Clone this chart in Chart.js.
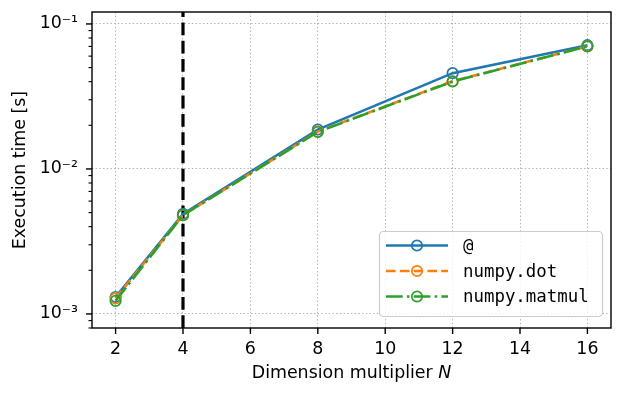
<!DOCTYPE html>
<html><head><meta charset="utf-8">
<script src="https://cdn.jsdelivr.net/npm/chart.js@4/dist/chart.umd.min.js"></script>
<style>html,body{margin:0;padding:0;background:#fff}canvas{display:block}</style>
</head><body>
<canvas id="c" width="624" height="397"></canvas>
<script>
const dimensionMultipliers = [2, 4, 8, 12, 16];
const atOperatorTimes = [0.00131, 0.0049, 0.0187, 0.0458, 0.0714];
const numpyDotTimes = [0.00128, 0.0048, 0.0181, 0.0403, 0.0702];
const numpyMatmulTimes = [0.00123, 0.0048, 0.0180, 0.0401, 0.0700];
const xTickValues = [2, 4, 6, 8, 10, 12, 14, 16];
const seriesLabels = ['@', 'numpy.dot', 'numpy.matmul'];
const markerLine = 4;

const supers = {'-':'\u207B','0':'\u2070','1':'\u00B9','2':'\u00B2','3':'\u00B3','4':'\u2074'};
function sup(n){return String(n).split('').map(c=>supers[c]).join('');}

const Y_MIN = 0.0008, Y_MAX = 0.1209;
const FONT = "'DejaVu Sans', sans-serif";
const MONO = "'DejaVu Sans Mono', monospace";
const FS = 17.4;
const colors = ['#1f77b4', '#ff7f0e', '#2ca02c'];
const dashes = [[], [9.6, 4.2], [16.7, 4.2, 2.6, 4.2]];
const LW = 2.6, MR = 5.2, MW = 1.7;

function isMajor(v){const l=Math.log10(v);return Math.abs(l-Math.round(l))<1e-9;}

function mkData(arr){return dimensionMultipliers.map((x,i)=>({x:x,y:arr[i]}));}
const seriesValues = [atOperatorTimes, numpyDotTimes, numpyMatmulTimes];

const datasets = seriesValues.map((arr,i)=>({
  label: seriesLabels[i],
  data: mkData(arr),
  borderColor: colors[i],
  backgroundColor: 'rgba(0,0,0,0)',
  borderWidth: LW,
  borderDash: dashes[i],
  pointRadius: MR,
  pointBorderWidth: MW,
  pointBorderColor: colors[i],
  pointBackgroundColor: 'rgba(0,0,0,0)',
  tension: 0,
  order: 3 - i
}));

const decorPlugin = {
  id: 'decor',
  beforeDatasetsDraw(chart){
    const ctx = chart.ctx, a = chart.chartArea, xs = chart.scales.x;
    const px = xs.getPixelForValue(markerLine);
    ctx.save();
    ctx.beginPath();
    ctx.rect(a.left, a.top, a.right-a.left, a.bottom-a.top);
    ctx.clip();
    ctx.strokeStyle = '#000';
    ctx.lineWidth = 3.2;
    ctx.setLineDash([12.8, 5.5]);
    ctx.beginPath();
    ctx.moveTo(px, a.bottom);
    ctx.lineTo(px, a.top);
    ctx.stroke();
    ctx.restore();
  },
  afterDraw(chart){
    const ctx = chart.ctx, a = chart.chartArea, xs = chart.scales.x, ys = chart.scales.y;
    ctx.save();
    ctx.strokeStyle = '#000'; ctx.lineWidth = 1.4; ctx.setLineDash([]);
    ctx.strokeRect(a.left, a.top, a.right-a.left, a.bottom-a.top);
    xs.ticks.forEach(t=>{
      const p = xs.getPixelForValue(t.value);
      ctx.beginPath(); ctx.moveTo(p, a.bottom); ctx.lineTo(p, a.bottom+6); ctx.stroke();
    });
    ys.ticks.forEach(t=>{
      const p = ys.getPixelForValue(t.value);
      const major = isMajor(t.value);
      ctx.lineWidth = major ? 1.4 : 1.1;
      ctx.beginPath(); ctx.moveTo(a.left, p); ctx.lineTo(a.left-(major?6:3.5), p); ctx.stroke();
    });
    ctx.fillStyle = '#000';
    ctx.textBaseline = 'alphabetic';
    const t1 = 'Dimension multiplier ', t2 = 'N';
    ctx.font = FS + 'px ' + FONT;
    const w1 = ctx.measureText(t1).width;
    ctx.font = 'italic ' + FS + 'px ' + FONT;
    const w2 = ctx.measureText(t2).width;
    const cx = (a.left + a.right)/2;
    const sx = cx - (w1+w2)/2;
    ctx.font = FS + 'px ' + FONT; ctx.textAlign = 'left';
    ctx.fillText(t1, sx, 378);
    ctx.font = 'italic ' + FS + 'px ' + FONT;
    ctx.fillText(t2, sx + w1, 378);
    // legend
    const lx = 379, ly = 231, lw = 223, lh = 85;
    ctx.beginPath();
    if (ctx.roundRect) ctx.roundRect(lx+0.5, ly+0.5, lw, lh, 4); else ctx.rect(lx+0.5, ly+0.5, lw, lh);
    ctx.fillStyle = 'rgba(255,255,255,0.8)'; ctx.fill();
    ctx.strokeStyle = '#cccccc'; ctx.lineWidth = 1.2; ctx.stroke();
    const rows = [245.5, 271, 296.5];
    seriesLabels.forEach((lab,i)=>{
      const y = rows[i];
      ctx.strokeStyle = colors[i]; ctx.lineWidth = LW; ctx.setLineDash(dashes[i]);
      ctx.beginPath(); ctx.moveTo(386, y); ctx.lineTo(448, y); ctx.stroke();
      ctx.setLineDash([]); ctx.lineWidth = MW;
      ctx.beginPath(); ctx.arc(417, y, MR, 0, Math.PI*2); ctx.stroke();
      ctx.fillStyle = '#000'; ctx.font = FS + 'px ' + MONO; ctx.textAlign = 'left'; ctx.textBaseline = 'middle';
      ctx.fillText(lab, 463, y + 1);
    });
    ctx.restore();
  }
};

new Chart(document.getElementById('c'), {
  type: 'line',
  data: { datasets },
  options: {
    responsive: false,
    animation: false,
    devicePixelRatio: 1,
    layout: { padding: { top: 12, right: 13, left: 0, bottom: 0 } },
    plugins: { legend: { display: false }, tooltip: { enabled: false } },
    scales: {
      x: {
        type: 'linear', min: 1.3, max: 16.7,
        afterBuildTicks(s){ s.ticks = xTickValues.map(v=>({value:v})); },
        afterFit(s){ s.height = 69; s.paddingLeft = 0; s.paddingRight = 0; },
        ticks: { font: { family: FONT, size: FS }, color: '#000', padding: 11, maxRotation: 0, autoSkip: false,
          callback: v => String(v) },
        grid: { drawTicks: false, color: '#b0b0b0', lineWidth: 1 },
        border: { display: false, dash: [1.4, 2.3] },
        title: { display: false }
      },
      y: {
        type: 'logarithmic', min: Y_MIN, max: Y_MAX,
        afterBuildTicks(s){
          const t = [];
          for (let e = -4; e <= -1; e++) for (let k = 1; k <= 9; k++) {
            const vv = parseFloat((k * Math.pow(10, e)).toPrecision(6));
            if (vv >= Y_MIN - 1e-12 && vv <= Y_MAX) t.push({ value: vv });
          }
          s.ticks = t;
        },
        afterFit(s){ s.width = 92; s.paddingTop = 0; s.paddingBottom = 0; },
        ticks: { font: { family: FONT, size: FS }, color: '#000', padding: 14, autoSkip: false,
          callback: v => isMajor(v) ? '10' + sup(Math.round(Math.log10(v))) : '' },
        grid: { drawTicks: false, lineWidth: 1,
          color: c => (c.tick && isMajor(c.tick.value)) ? '#b0b0b0' : 'rgba(0,0,0,0)' },
        border: { display: false, dash: [1.4, 2.3] },
        title: { display: true, text: 'Execution time [s]', font: { family: FONT, size: FS }, color: '#000', padding: { top: 10, bottom: 0 } }
      }
    }
  },
  plugins: [decorPlugin]
});
</script>
</body></html>
